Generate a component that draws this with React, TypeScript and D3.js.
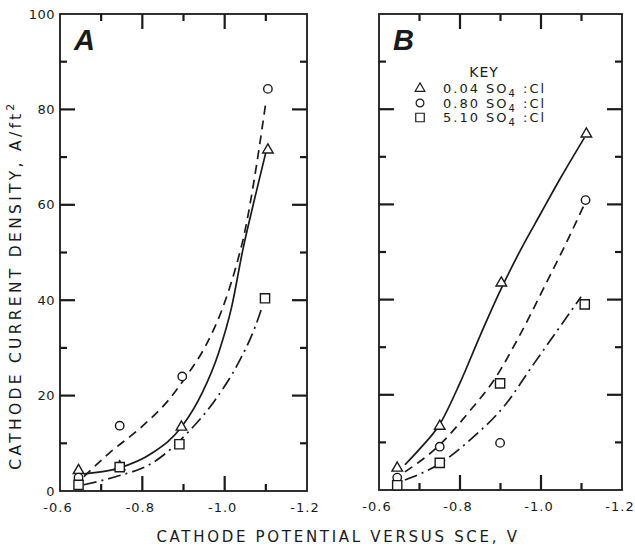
import React, { useEffect, useRef } from 'react';
import * as d3 from 'd3';

// ratio labels for the three solutions (SO4:Cl)
const ratios = ['0.04', '0.80', '5.10'];

// panel A, measured points [potential V, current A/ft2]
const aTri = [[-0.645, 4.3], [-0.745, 5.1], [-0.895, 13.4], [-1.105, 71.5]];
const aCirc = [[-0.645, 2.8], [-0.745, 13.7], [-0.897, 24.0], [-1.105, 84.3]];
const aSq = [[-0.645, 1.3], [-0.745, 5.0], [-0.89, 9.8], [-1.098, 40.4]];
// panel A, drawn curves
const aTriCurve = [[-0.658, 3.6], [-0.743, 4.8], [-0.823, 7.9], [-0.896, 13.5], [-0.945, 20.5], [-0.985, 28.9], [-1.017, 38.6], [-1.044, 50.5], [-1.072, 61], [-1.10, 71]];
const aCircCurve = [[-0.658, 3.0], [-0.719, 7.9], [-0.799, 13.5], [-0.864, 19.1], [-0.912, 24.7], [-0.953, 30.3], [-0.993, 37.9], [-1.025, 46.3], [-1.048, 54], [-1.075, 67], [-1.10, 81.5]];
const aSqCurve = [[-0.658, 1.3], [-0.735, 3.0], [-0.823, 5.8], [-0.912, 12.4], [-0.977, 19.1], [-1.033, 26.8], [-1.074, 34.4], [-1.09, 38.3]];

// panel B
const bTri = [[-0.645, 4.6], [-0.75, 13.4], [-0.902, 43.5], [-1.112, 74.8]];
const bCirc = [[-0.645, 2.6], [-0.75, 9.1], [-0.899, 9.9], [-1.11, 60.9]];
const bSq = [[-0.645, 1.0], [-0.75, 5.7], [-0.899, 22.4], [-1.108, 39]];
const bTriCurve = [[-0.664, 5.3], [-0.70, 8.6], [-0.75, 13.8], [-0.80, 22.5], [-0.85, 32.5], [-0.90, 42], [-0.95, 50.5], [-1.00, 58.2], [-1.05, 65.8], [-1.107, 74]];
const bCircCurve = [[-0.664, 3.8], [-0.75, 9.5], [-0.826, 16.8], [-0.884, 23.1], [-0.95, 32.9], [-1.016, 44], [-1.06, 51.5], [-1.107, 60]];
const bSqCurve = [[-0.664, 2.1], [-0.751, 5.6], [-0.834, 11.2], [-0.908, 17.5], [-0.983, 26.6], [-1.041, 33.6], [-1.099, 40.6]];

// ticks
const xLabels = [-0.6, -0.8, -1.0, -1.2];
const xMajor = [-0.8, -1.0];
const xMinor = [-0.7, -0.9, -1.1];
const yLabels = [0, 20, 40, 60, 80, 100];
const yMajor = [20, 40, 60, 80];
const yMinor = [10, 30, 50, 70, 90];

const INK = '#1a1a1a';
const FONT = '"DejaVu Sans", "Liberation Sans", sans-serif';

const styles = [
  { sym: d3.symbolTriangle, size: 48, dash: null },
  { sym: d3.symbolCircle, size: 56, dash: '9,6' },
  { sym: d3.symbolSquare, size: 85, dash: '13,5,2,5' },
];

const panels = [
  { id: 'A', xr: [60, 307], yr: [491, 14], pts: [aTri, aCirc, aSq], curves: [aTriCurve, aCircCurve, aSqCurve], showY: true },
  { id: 'B', xr: [379, 622], yr: [490, 14], pts: [bTri, bCirc, bSq], curves: [bTriCurve, bCircCurve, bSqCurve], showY: false },
];

const xTicks = xMajor.map(v => ({ v, len: 15 })).concat(xMinor.map(v => ({ v, len: 7 })));
const yTicks = yMajor.map(v => ({ v, len: 15 })).concat(yMinor.map(v => ({ v, len: 7 })));

export default function App() {
  const gRef = useRef(null);

  useEffect(() => {
    const root = d3.select(gRef.current);
    root.selectAll('*').remove();

    const fmtX = (d) => `-${Math.abs(d).toFixed(1)}`;

    panels.forEach(({ id, xr, yr, pts, curves, showY }) => {
      const x = d3.scaleLinear().domain([-0.6, -1.2]).range(xr);
      const y = d3.scaleLinear().domain([0, 100]).range(yr);
      const g = root.append('g');

      g.append('rect')
        .attr('x', xr[0]).attr('y', yr[1])
        .attr('width', xr[1] - xr[0]).attr('height', yr[0] - yr[1])
        .attr('fill', 'none').attr('stroke', INK).attr('stroke-width', 1.8);

      // inward ticks on all four sides
      const tk = g.append('g').attr('stroke', INK).attr('stroke-width', 2.2).attr('stroke-linecap', 'butt');
      xTicks.forEach(d => {
        tk.append('line').attr('x1', x(d.v)).attr('x2', x(d.v)).attr('y1', yr[0]).attr('y2', yr[0] - d.len);
        tk.append('line').attr('x1', x(d.v)).attr('x2', x(d.v)).attr('y1', yr[1]).attr('y2', yr[1] + d.len);
      });
      yTicks.forEach(d => {
        tk.append('line').attr('x1', xr[0]).attr('x2', xr[0] + d.len).attr('y1', y(d.v)).attr('y2', y(d.v));
        tk.append('line').attr('x1', xr[1]).attr('x2', xr[1] - d.len).attr('y1', y(d.v)).attr('y2', y(d.v));
      });

      g.selectAll('text.xl').data(xLabels).join('text').attr('class', 'xl')
        .attr('x', d => x(d) - 2).attr('y', yr[0] + 21)
        .attr('text-anchor', 'middle').attr('font-family', FONT).attr('font-size', 13)
        .attr('letter-spacing', 1).attr('fill', INK)
        .text(fmtX);

      if (showY) {
        g.selectAll('text.ylab').data(yLabels).join('text').attr('class', 'ylab')
          .attr('x', xr[0] - 5).attr('y', d => y(d)).attr('dy', '0.35em')
          .attr('text-anchor', 'end').attr('font-family', FONT).attr('font-size', 13)
          .attr('letter-spacing', 0.5).attr('fill', INK)
          .text(d => d);
      }

      g.append('text')
        .attr('x', xr[0] + 14).attr('y', yr[1] + 36)
        .attr('font-family', '"Liberation Sans", Arial, sans-serif')
        .attr('font-size', 29).attr('font-weight', 'bold').attr('font-style', 'italic')
        .attr('fill', INK).text(id);

      const line = d3.line().x(d => x(d[0])).y(d => y(d[1])).curve(d3.curveMonotoneX);
      curves.forEach((c, i) => {
        g.append('path').datum(c).attr('d', line)
          .attr('fill', 'none').attr('stroke', INK).attr('stroke-width', 1.7)
          .attr('stroke-dasharray', styles[i].dash);
      });

      pts.forEach((series, i) => {
        g.selectAll(null).data(series).enter().append('path')
          .attr('d', d3.symbol().type(styles[i].sym).size(styles[i].size))
          .attr('transform', d => `translate(${x(d[0])},${y(d[1])})`)
          .attr('fill', 'white').attr('stroke', INK).attr('stroke-width', 1.4);
      });
    });

    // key in panel B
    const key = root.append('g');
    key.append('text').attr('x', 484).attr('y', 77).attr('text-anchor', 'middle')
      .attr('font-family', FONT).attr('font-size', 14).attr('letter-spacing', 1).attr('fill', INK).text('KEY');
    ratios.forEach((r, i) => {
      const yy = 93 + i * 14.5;
      key.append('path')
        .attr('d', d3.symbol().type(styles[i].sym).size(styles[i].size * 0.85))
        .attr('transform', `translate(420,${yy - 4.5})`)
        .attr('fill', 'white').attr('stroke', INK).attr('stroke-width', 1.2);
      const t = key.append('text').attr('x', 443).attr('y', yy)
        .attr('font-family', FONT).attr('font-size', 13).attr('letter-spacing', 2).attr('fill', INK);
      t.append('tspan').text(`${r}  SO`);
      t.append('tspan').attr('dy', 4).attr('font-size', 10).text('4');
      t.append('tspan').attr('dy', -4).text(' :Cl');
    });

    // axis titles
    root.append('text').attr('x', 338).attr('y', 542).attr('text-anchor', 'middle')
      .attr('font-family', FONT).attr('font-size', 15).attr('letter-spacing', 2.7).attr('fill', INK)
      .text('CATHODE POTENTIAL VERSUS SCE, V');

    const ylab = root.append('text').attr('transform', 'translate(21,285) rotate(-90)')
      .attr('text-anchor', 'middle').attr('font-family', FONT).attr('font-size', 15.5)
      .attr('letter-spacing', 3.3).attr('fill', INK);
    ylab.append('tspan').text('CATHODE CURRENT DENSITY, A/ft');
    ylab.append('tspan').attr('dy', -7).attr('font-size', 11).text('2');
  }, []);

  return (
    <svg width={635} height={550} style={{ position: 'absolute', left: 0, top: 0, background: 'white' }}>
      <g ref={gRef}></g>
    </svg>
  );
}
